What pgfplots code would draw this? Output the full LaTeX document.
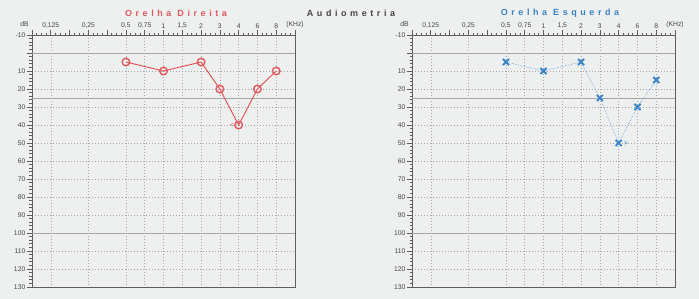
\documentclass[border=0pt]{standalone}
\usepackage{pgfplots}
\pgfplotsset{compat=1.18}
\usepackage{fontspec}
\setmainfont{Liberation Sans}
\newfontfamily\spacedfont[LetterSpace=40]{Liberation Sans}

\definecolor{paper}{HTML}{EEF0F0}
\definecolor{frame}{HTML}{5E5E5E}
\definecolor{gridc}{HTML}{A6A6A6}
\definecolor{redear}{HTML}{E2585E}
\definecolor{blueear}{HTML}{3A84C9}
\definecolor{inkgray}{HTML}{454545}

% shared audiogram frame: octave-based frequency axis, reversed dB scale
\pgfplotsset{audiogram/.style={
  scale only axis, width=263bp, height=252bp,
  xmin=-0.5, xmax=6.5, ymin=-10, ymax=130, y dir=reverse,
  axis line style={frame, line width=1bp},
  xtick pos=right, xticklabel pos=right, ytick pos=left,
  tick align=outside,
  major tick length=5bp, minor tick length=2.5bp,
  every tick/.style={frame, line width=0.7bp},
  xtick={0,1,2,2.5,3,3.5,4,4.5,5,5.5,6},
  xticklabels={{0,125},{0,25},{0,5},{0,75},{1},{1,5},{2},{3},{4},{6},{8}},
  extra x ticks={-0.5,0.5,1.5,6.5},
  extra x tick labels={{},{},{},{(KHz)}},
  extra x tick style={grid=none},
  minor xtick={-0.5,-0.375,...,6.5},
  ytick={-10,0,10,20,30,40,50,60,70,80,90,100,110,120,130},
  yticklabels={-10,,10,20,30,40,50,60,70,80,90,100,110,120,130},
  minor y tick num=4,
  extra y ticks={0,25,100},
  extra y tick labels={},
  extra y tick style={major tick length=0pt,
    major grid style={solid, gridc, line width=0.8bp}},
  grid=major,
  major grid style={gridc, line width=0.5bp, dash pattern=on 1.3bp off 1.7bp},
  ticklabel style={font=\fontsize{6.8}{7}\selectfont, text=inkgray},
  xticklabel style={inner sep=1.5bp},
  yticklabel style={inner sep=1.5bp},
  clip=false,
}}

\begin{document}
\begin{tikzpicture}
\fill[paper] (0,0) rectangle (699bp,-299bp);
\useasboundingbox (0,0) rectangle (699bp,-299bp);

\node[font=\spacedfont\bfseries\fontsize{9}{10}\selectfont, text=inkgray] at (351bp,-13bp) {Audiometria};
\node[font=\spacedfont\bfseries\fontsize{9}{10}\selectfont, text=redear] at (176bp,-13bp) {Orelha Direita};
\node[font=\spacedfont\bfseries\fontsize{9}{10}\selectfont, text=blueear] at (560bp,-13bp) {Orelha Esquerda};

% right ear
\begin{axis}[audiogram, at={(32bp,-35bp)}, anchor=north west]
\node[font=\fontsize{6.8}{7}\selectfont, text=inkgray] at (axis cs:-0.7,-10) [yshift=11bp] {dB};
\addplot[redear, line width=1bp, mark=o, mark size=3.8bp,
  mark options={fill=paper, line width=1.4bp}]
  coordinates {(2,5) (3,10) (4,5) (4.5,20) (5,40) (5.5,20) (6,10)};
\node[text=redear, font=\fontsize{7}{8}\selectfont, anchor=east, inner sep=0pt] at (axis cs:5,40) [xshift=-4.5bp] {<};
\end{axis}

% left ear
\begin{axis}[audiogram, at={(412bp,-35bp)}, anchor=north west]
\node[font=\fontsize{6.8}{7}\selectfont, text=inkgray] at (axis cs:-0.7,-10) [yshift=11bp] {dB};
\addplot[blueear!75, line width=0.6bp, densely dotted, mark=x, mark size=4.3bp,
  mark options={blueear, solid, line width=1.9bp}]
  coordinates {(2,5) (3,10) (4,5) (4.5,25) (5,50) (5.5,30) (6,15)};
\node[text=blueear, font=\fontsize{7}{8}\selectfont, anchor=west, inner sep=0pt] at (axis cs:5,50) [xshift=5bp] {>};
\end{axis}
\end{tikzpicture}
\end{document}
